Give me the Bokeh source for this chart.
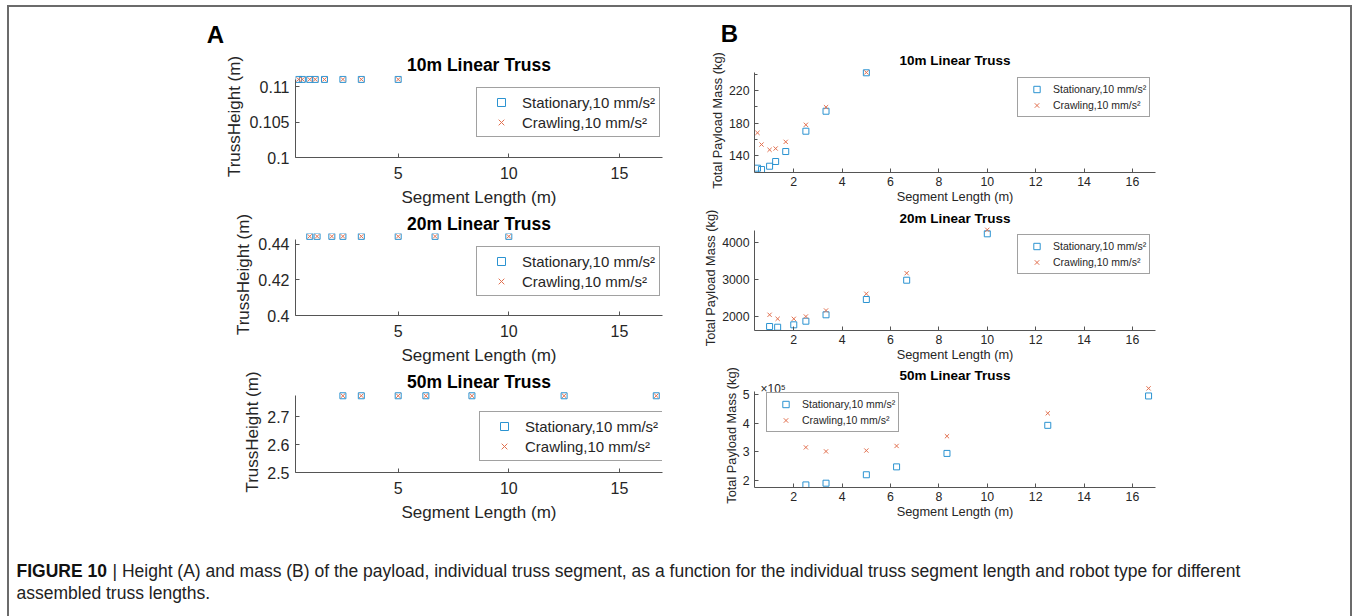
from bokeh.plotting import figure
from bokeh.models import (Range1d, FixedTicker, CustomJSTickFormatter, Legend,
                          LegendItem, Label, Div, Spacer)
from bokeh.layouts import column, row
from bokeh.embed import file_html
from bokeh.resources import INLINE

# ---------------- data ----------------
seg_10 = [0.5, 0.667, 1.0, 1.25, 1.667, 2.5, 3.333, 5.0]
seg_20 = [1.0, 1.333, 2.0, 2.5, 3.333, 5.0, 6.667, 10.0]
seg_50 = [2.5, 3.333, 5.0, 6.25, 8.333, 12.5, 16.667]

height_10_stat = [0.111, 0.111, 0.111, 0.111, 0.111, 0.111, 0.111, 0.111]
height_10_crawl = [0.111, 0.111, 0.111, 0.111, 0.111, 0.111, 0.111, 0.111]
height_20_stat = [0.4445, 0.4445, 0.4445, 0.4445, 0.4445, 0.4445, 0.4445, 0.4445]
height_20_crawl = [0.4445, 0.4445, 0.4445, 0.4445, 0.4445, 0.4445, 0.4445, 0.4445]
height_50_stat = [2.774, 2.774, 2.774, 2.774, 2.774, 2.774, 2.774]
height_50_crawl = [2.774, 2.774, 2.774, 2.774, 2.774, 2.774, 2.774]

mass_10_stat = [124.4, 122.8, 126.8, 132.6, 144.9, 169.9, 194.5, 241.8]
mass_10_crawl = [167.9, 153.5, 147.0, 148.6, 156.8, 177.8, 199.5, 242.2]
mass_20_stat = [1740, 1721, 1785, 1882, 2054, 2464, 2981, 4225]
mass_20_crawl = [2054, 1946, 1946, 2008, 2169, 2617, 3169, 4332]
mass_50_stat = [184000, 190000, 219500, 247000, 294000, 392000, 494500]
mass_50_crawl = [315000, 301000, 304000, 320000, 354000, 434000, 521000]

titles = ["10m Linear Truss", "20m Linear Truss", "50m Linear Truss"]
label_stat = "Stationary,10 mm/s\u00b2"
label_crawl = "Crawling,10 mm/s\u00b2"
x_label = "Segment Length (m)"
ya_label = "TrussHeight (m)"
yb_label = "Total Payload Mass (kg)"
a_xticks = [5, 10, 15]
a_yticks = [[0.1, 0.105, 0.11], [0.4, 0.42, 0.44], [2.5, 2.6, 2.7]]
b_xticks = [2, 4, 6, 8, 10, 12, 14, 16]
b_yticks = [[140, 180, 220], [2000, 3000, 4000], [200000, 300000, 400000, 500000]]
b_yminor = [[160, 200, 240], [], []]
caption_bold = "FIGURE 10"
caption_l1 = ("| Height (A) and mass (B) of the payload, individual truss segment, as a function "
              "for the individual truss segment length and robot type for different")
caption_l2 = "assembled truss lengths."

BLUE = "#2b93d1"
ORANGE = "#e2704f"
AX = "#555555"
TXT = "#262626"
FONT = "Liberation Sans"

# ---------------- layout geometry (page px) ----------------
OX, OY = 9, 7  # inner origin after border


def x_setup(v_lo, v_hi, zero_px, ppu):
    l = round(zero_px + v_lo * ppu)
    r = round(zero_px + v_hi * ppu)
    return l, r, ((l - zero_px) / ppu, (r - zero_px) / ppu)


def y_setup(v_ref, px_ref, ppu, v_bottom, v_top, axis_top_v):
    bot = round(px_ref + (v_ref - v_bottom) * ppu)
    top = round(px_ref - (v_top - v_ref) * ppu)
    lo = v_ref - (bot - px_ref) / ppu
    hi = v_ref + (px_ref - top) / ppu
    return top, bot, (lo, hi), (lo, axis_top_v)


ax_l, ax_r, a_xr = x_setup(0.36, 16.95, 287.1, 22.12)
bx_l, bx_r, b_xr = x_setup(0.375, 16.95, 744.9, 24.19)

a_boxes = [(9, 50, 691, 161), (9, 211, 691, 158), (9, 369, 691, 171)]
b_boxes = [(700, 50, 650, 156), (700, 206, 650, 158), (700, 364, 650, 176)]

a_y = [y_setup(0.1, 157, 7100, 0.1, 0.11155, 0.111),
       y_setup(0.4, 315, 1800, 0.4, 0.4463, 0.443),
       y_setup(2.5, 472, 280, 2.5, 2.789, 2.774)]
b_y = [y_setup(140, 155, 0.8125, 119.5, 247, 242.5),
       y_setup(2000, 316.3, 0.0373, 1640, 4440, 4320),
       y_setup(200000, 479.7, 29.2e-5, 174000, 537000, 510000)]

a_legend_pos = [(181, 20), (181, 19), (184, 11)]
b_legend_pos = [(263, 55), (263, 56), (12, 55)]
a_title_standoff = [2, 0, 0]
b_title_standoff = [1, 0, 2]


def make_fig(box, fl, fr, ft, fb, xr, yr):
    x0, y0, w, h = box
    p = figure(width=w, height=h, x_range=Range1d(*xr), y_range=Range1d(*yr),
               min_border_left=fl - x0, min_border_right=x0 + w - fr,
               min_border_top=ft - y0, min_border_bottom=y0 + h - fb,
               toolbar_location=None, output_backend="svg",
               outline_line_color=None, background_fill_color="white",
               border_fill_color="white")
    p.xgrid.visible = False
    p.ygrid.visible = False
    return p


def style_title(p, text, fs, standoff):
    p.title.text = text
    p.title.align = "center"
    p.title.text_font = FONT
    p.title.text_font_size = fs
    p.title.text_font_style = "bold"
    p.title.text_color = "#000000"
    p.title.standoff = standoff


def style_axis(ax, tick_fs, label_fs, tick_standoff, label_standoff):
    ax.axis_line_color = AX
    ax.axis_line_width = 1
    ax.major_tick_line_color = AX
    ax.minor_tick_line_color = AX
    ax.major_tick_in = 4
    ax.major_tick_out = 0
    ax.minor_tick_in = 3
    ax.minor_tick_out = 0
    ax.major_label_text_font = FONT
    ax.major_label_text_font_size = tick_fs
    ax.major_label_text_color = TXT
    ax.axis_label_text_font = FONT
    ax.axis_label_text_font_size = label_fs
    ax.axis_label_text_font_style = "normal"
    ax.axis_label_text_color = TXT
    ax.major_label_standoff = tick_standoff
    ax.axis_label_standoff = label_standoff


def add_series(p, xs, ys_s, ys_c, size):
    r1 = p.scatter(xs, ys_s, marker="square", size=size, fill_color=None,
                   line_color=BLUE, line_width=1)
    r2 = p.scatter(xs, ys_c, marker="x", size=size, line_color=ORANGE,
                   line_width=1)
    return r1, r2


def add_legend(p, r1, r2, loc, fs, pad, gw, gh, lh):
    lg = Legend(items=[LegendItem(label=label_stat, renderers=[r1]),
                       LegendItem(label=label_crawl, renderers=[r2])],
                location=loc, padding=pad, spacing=0, margin=0,
                glyph_width=gw, glyph_height=gh, label_height=lh,
                label_standoff=1, label_text_font=FONT,
                label_text_font_size=fs, label_text_color=TXT,
                border_line_color="#444444", border_line_width=1,
                background_fill_color="white", background_fill_alpha=1)
    p.add_layout(lg)


def add_text(p, x, y, text, fs, bold=False, align="center", color=None):
    p.add_layout(Label(x=x, y=y, x_units="screen", y_units="screen", text=text,
                       text_font=FONT, text_font_size=fs,
                       text_font_style="bold" if bold else "normal",
                       text_color=color or ("#000000" if bold else TXT),
                       text_align=align, text_baseline="middle"))


a_fmt = CustomJSTickFormatter(code="return String(parseFloat(tick.toFixed(6)));")
b3_fmt = CustomJSTickFormatter(code="return String(parseFloat((tick/1e5).toFixed(4)));")

a_data = [(seg_10, height_10_stat, height_10_crawl),
          (seg_20, height_20_stat, height_20_crawl),
          (seg_50, height_50_stat, height_50_crawl)]
b_data = [(seg_10, mass_10_stat, mass_10_crawl),
          (seg_20, mass_20_stat, mass_20_crawl),
          (seg_50, mass_50_stat, mass_50_crawl)]

a_figs = []
for i in range(3):
    top, bot, yr, yb = a_y[i]
    p = make_fig(a_boxes[i], ax_l, ax_r, top, bot, a_xr, yr)
    style_title(p, titles[i], "17.5px", a_title_standoff[i])
    style_axis(p.xaxis[0], "16px", "17px", 9, 6)
    style_axis(p.yaxis[0], "16px", "17px", 6, 2)
    p.yaxis[0].bounds = yb
    p.xaxis[0].ticker = FixedTicker(ticks=a_xticks, minor_ticks=[])
    p.yaxis[0].ticker = FixedTicker(ticks=a_yticks[i], minor_ticks=[])
    p.yaxis[0].formatter = a_fmt
    p.xaxis[0].axis_label = x_label
    p.yaxis[0].axis_label = ya_label
    r1, r2 = add_series(p, *a_data[i], 6)
    add_legend(p, r1, r2, a_legend_pos[i], "15px", 4, 40, 20, 20)
    a_figs.append(p)

b_figs = []
for i in range(3):
    top, bot, yr, yb = b_y[i]
    p = make_fig(b_boxes[i], bx_l, bx_r, top, bot, b_xr, yr)
    style_title(p, titles[i], "13.5px", b_title_standoff[i])
    style_axis(p.xaxis[0], "12.3px", "12.8px", 4, 0)
    style_axis(p.yaxis[0], "12.3px", "12.8px", 5, 1)
    p.yaxis[0].bounds = yb
    p.xaxis[0].ticker = FixedTicker(ticks=b_xticks, minor_ticks=[])
    p.yaxis[0].ticker = FixedTicker(ticks=b_yticks[i], minor_ticks=b_yminor[i])
    if i == 2:
        p.yaxis[0].formatter = b3_fmt
    p.xaxis[0].axis_label = x_label
    p.yaxis[0].axis_label = yb_label
    r1, r2 = add_series(p, *b_data[i], 6)
    add_legend(p, r1, r2, b_legend_pos[i], "10.5px", 3, 31, 16, 16)
    if i == 2:
        add_text(p, 760 - bx_l, bot - 388, "\u00d710\u2075", "12px", align="left")
    b_figs.append(p)


def blank_fig(w, h):
    f = figure(width=w, height=h, x_range=Range1d(0, 1), y_range=Range1d(0, 1),
               x_axis_location=None, y_axis_location=None, toolbar_location=None,
               output_backend="svg", min_border=0, outline_line_color=None)
    f.xgrid.visible = False
    f.ygrid.visible = False
    return f


# header with panel letters (page y 7..50)
head = blank_fig(1341, 43)
add_text(head, 215 - OX, 50 - 34, "A", "24px", bold=True)
add_text(head, 729 - OX, 50 - 33, "B", "24px", bold=True)

# caption (page y 540..616)
cap = blank_fig(1341, 76)
add_text(cap, 16 - OX, 616 - 570, caption_bold, "17.5px", bold=True, align="left", color="#111111")
add_text(cap, 112 - OX, 616 - 570, caption_l1, "17.5px", align="left", color="#222222")
add_text(cap, 16 - OX, 616 - 592, caption_l2, "17.5px", align="left", color="#222222")

bar = {"background-color": "#6b6b6b"}
content = column(head, row(column(*a_figs), column(*b_figs)), cap)
root = column(
    Spacer(width=1356, height=5),
    row(Spacer(width=7, height=2), Div(width=1345, height=2, styles=bar, margin=0)),
    row(Spacer(width=7, height=609), Div(width=2, height=609, styles=bar, margin=0),
        content, Div(width=2, height=609, styles=bar, margin=0)),
)

open("out.html", "w").write(file_html(root, INLINE))
